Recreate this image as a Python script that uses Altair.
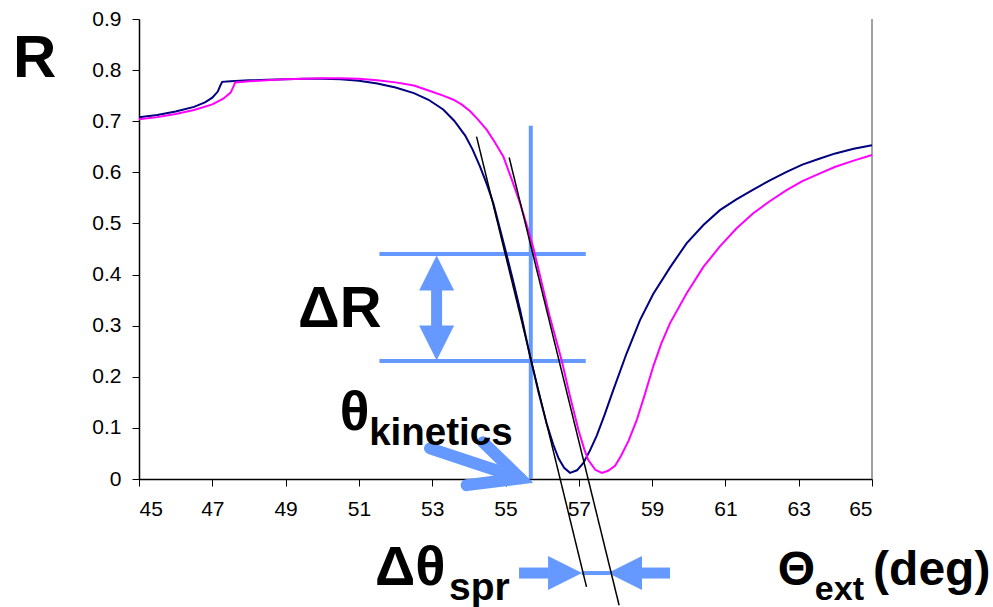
import altair as alt
import pandas as pd

# ---------------- data ----------------
blue_x = [45.0, 45.5, 46.0, 46.5, 46.8, 47.0, 47.15, 47.22, 47.27, 47.5, 48.0, 48.5, 49.0, 49.5,
          50.0, 50.5, 51.0, 51.5, 52.0, 52.5, 52.9, 53.3, 53.6, 53.9, 54.1, 54.3, 54.5, 54.67,
          54.99, 55.2, 55.4, 55.67, 55.9, 56.12, 56.3, 56.45, 56.6, 56.76, 56.95, 57.12, 57.3,
          57.49, 57.7, 57.94, 58.3, 58.67, 59.03, 59.5, 59.94, 60.4, 60.85, 61.3, 61.76, 62.2,
          62.67, 63.1, 63.58, 64.0, 64.5, 65.0]
blue_r = [0.708, 0.712, 0.719, 0.728, 0.737, 0.746, 0.758, 0.770, 0.777, 0.778, 0.780, 0.781,
          0.782, 0.783, 0.783, 0.782, 0.779, 0.774, 0.766, 0.755, 0.742, 0.723, 0.701, 0.672,
          0.645, 0.612, 0.575, 0.539, 0.450, 0.390, 0.330, 0.240, 0.170, 0.109, 0.068, 0.040,
          0.022, 0.012, 0.017, 0.031, 0.055, 0.085, 0.125, 0.174, 0.245, 0.311, 0.362, 0.415,
          0.461, 0.497, 0.526, 0.547, 0.566, 0.584, 0.601, 0.615, 0.627, 0.637, 0.646, 0.653]

mag_x = [45.0, 45.5, 46.0, 46.5, 47.0, 47.3, 47.5, 47.58, 47.62, 48.0, 48.5, 49.0, 49.5, 50.0,
         50.5, 51.0, 51.5, 52.0, 52.5, 52.9, 53.3, 53.58, 53.8, 54.03, 54.25, 54.49, 54.7, 54.94,
         55.15, 55.4, 55.6, 55.76, 55.94, 56.2, 56.53, 56.75, 56.99, 57.15, 57.26, 57.45, 57.63,
         57.8, 57.99, 58.15, 58.36, 58.58, 58.8, 59.03, 59.25, 59.49, 59.94, 60.4, 60.85, 61.3,
         61.76, 62.2, 62.67, 63.1, 63.58, 64.0, 64.5, 65.0]
mag_r = [0.704, 0.708, 0.714, 0.722, 0.733, 0.744, 0.756, 0.768, 0.776, 0.778, 0.780, 0.782,
         0.783, 0.784, 0.784, 0.783, 0.780, 0.776, 0.770, 0.760, 0.750, 0.742, 0.733, 0.720,
         0.703, 0.683, 0.660, 0.631, 0.590, 0.539, 0.492, 0.452, 0.398, 0.320, 0.233, 0.165,
         0.096, 0.058, 0.037, 0.018, 0.012, 0.016, 0.026, 0.045, 0.075, 0.115, 0.165, 0.220,
         0.265, 0.305, 0.363, 0.415, 0.455, 0.490, 0.520, 0.543, 0.565, 0.583, 0.598, 0.611,
         0.623, 0.634]

x_ticks = [45, 47, 49, 51, 53, 55, 57, 59, 61, 63, 65]
y_ticks = [0, 0.1, 0.2, 0.3, 0.4, 0.5, 0.6, 0.7, 0.8, 0.9]

# tangent lines (start x, start R, end x, end R)
tan_x1 = [54.21, 55.10]
tan_y1 = [0.670, 0.629]
tan_x2 = [57.21, 58.10]
tan_y2 = [-0.211, -0.247]

# light-blue guide lines
guide_x1 = [51.56, 51.56, 55.69]
guide_y1 = [0.440, 0.231, 0.0]
guide_x2 = [57.19, 57.19, 55.69]
guide_y2 = [0.440, 0.231, 0.691]

# texts
txt = ["R", "ΔR", "θ", "kinetics", "Δθ", "spr", "Θ", "ext", "(deg)"]
txt_x = [41.56, 49.34, 50.48, 51.28, 51.44, 53.46, 62.43, 63.44, 65.03]
txt_y = [0.787, 0.297, 0.096, 0.066, -0.207, -0.237, -0.207, -0.237, -0.207]
txt_size = [60, 58, 55, 38.5, 56, 39, 48, 34, 48]

FONT = "Liberation Sans"
LB = "#6699ff"

curves = pd.DataFrame({
    "x": blue_x + mag_x,
    "y": blue_r + mag_r,
    "s": ["blue"] * len(blue_x) + ["magenta"] * len(mag_x),
})

X = alt.X("x:Q", scale=alt.Scale(domain=[45, 65], nice=False, zero=False),
          axis=alt.Axis(values=x_ticks, title=None, grid=False, labelPadding=12,
                        labelFontSize=21, labelFont=FONT, labelColor="black"))
Y = alt.Y("y:Q", scale=alt.Scale(domain=[0, 0.9], nice=False, zero=False),
          axis=alt.Axis(values=y_ticks, format=".1~f", title=None, grid=False, labelPadding=11,
                        labelFontSize=21, labelFont=FONT, labelColor="black"))

curve_layer = alt.Chart(curves).mark_line(strokeWidth=2, clip=False).encode(
    x=X, y=Y,
    color=alt.Color("s:N", scale=alt.Scale(domain=["blue", "magenta"], range=["#000080", "#ff00ff"]),
                    legend=None),
    detail="s:N",
)

tan_df = pd.DataFrame({"x": tan_x1, "y": tan_y1, "x2": tan_x2, "y2": tan_y2})
tan_layer = alt.Chart(tan_df).mark_rule(color="black", strokeWidth=1.5).encode(
    x=X, y=Y, x2="x2:Q", y2="y2:Q")

guide_df = pd.DataFrame({"x": guide_x1, "y": guide_y1, "x2": guide_x2, "y2": guide_y2})
guide_layer = alt.Chart(guide_df).mark_rule(color=LB, strokeWidth=4).encode(
    x=X, y=Y, x2="x2:Q", y2="y2:Q")

# right border of the plot area
border_df = pd.DataFrame({"x": [65], "y": [0], "y2": [0.9]})
border_layer = alt.Chart(border_df).mark_rule(color="#808080", strokeWidth=1.5).encode(
    x=X, y=Y, y2="y2:Q")

# ΔR double arrow
dr_shaft = pd.DataFrame({"x": [53.12], "y": [0.370], "y2": [0.297]})
dr_shaft_layer = alt.Chart(dr_shaft).mark_rule(color=LB, strokeWidth=11).encode(x=X, y=Y, y2="y2:Q")
dr_up = alt.Chart(pd.DataFrame({"x": [53.12], "y": [0.403]})).mark_point(
    shape="M0,-1L1,1L-1,1Z", filled=True, size=1225, color=LB, opacity=1, strokeWidth=0).encode(x=X, y=Y)
dr_dn = alt.Chart(pd.DataFrame({"x": [53.12], "y": [0.266]})).mark_point(
    shape="M0,1L1,-1L-1,-1Z", filled=True, size=1225, color=LB, opacity=1, strokeWidth=0).encode(x=X, y=Y)

# Δθspr arrows
sp_y = -0.184
sp_shafts = pd.DataFrame({"x": [55.37, 58.67], "x2": [56.17, 59.49], "y": [sp_y, sp_y]})
sp_shaft_layer = alt.Chart(sp_shafts).mark_rule(color=LB, strokeWidth=11).encode(x=X, x2="x2:Q", y=Y)
sp_mid = pd.DataFrame({"x": [57.08], "x2": [57.85], "y": [sp_y]})
sp_mid_layer = alt.Chart(sp_mid).mark_rule(color=LB, strokeWidth=4).encode(x=X, x2="x2:Q", y=Y)
sp_right = alt.Chart(pd.DataFrame({"x": [56.625], "y": [sp_y]})).mark_point(
    shape="M1,0L-1,-1L-1,1Z", filled=True, size=1156, color=LB, opacity=1, strokeWidth=0).encode(x=X, y=Y)
sp_left = alt.Chart(pd.DataFrame({"x": [58.26], "y": [sp_y]})).mark_point(
    shape="M-1,0L1,-1L1,1Z", filled=True, size=1156, color=LB, opacity=1, strokeWidth=0).encode(x=X, y=Y)

# θkinetics arrow
k_shaft = pd.DataFrame({"x": [52.94], "y": [0.060], "x2": [55.40], "y2": [0.0014]})
k_shaft_layer = alt.Chart(k_shaft).mark_rule(color=LB, strokeWidth=12, strokeCap="round").encode(
    x=X, y=Y, x2="x2:Q", y2="y2:Q")
k_head = pd.DataFrame({"x": [54.39, 55.40, 53.94], "y": [0.072, 0.0014, -0.012], "o": [0, 1, 2]})
k_head_layer = alt.Chart(k_head).mark_line(color=LB, strokeWidth=12, strokeCap="round",
                                           strokeJoin="miter").encode(x=X, y=Y, order="o:Q")

text_df = pd.DataFrame({"x": txt_x, "y": txt_y, "t": txt, "fs": txt_size})
text_layer = alt.Chart(text_df).mark_text(
    align="left", baseline="alphabetic", font=FONT, fontWeight="bold", color="black").encode(
    x=X, y=Y, text="t:N", size=alt.Size("fs:Q", scale=None, legend=None))

chart = alt.layer(
    border_layer, guide_layer, dr_shaft_layer, dr_up, dr_dn,
    sp_shaft_layer, sp_mid_layer, sp_right, sp_left,
    k_shaft_layer, k_head_layer,
    curve_layer, tan_layer, text_layer,
).properties(
    width=733, height=460,
    padding={"left": 139, "top": 19, "right": 121, "bottom": 128},
    autosize=alt.AutoSizeParams(type="none"),
    background="white",
).configure_view(strokeOpacity=0).configure_axis(
    domainColor="black", domainWidth=1.5, tickColor="black", tickWidth=1, tickSize=7,
)

chart.save("out.html", embed_options={"renderer": "svg", "actions": False})
